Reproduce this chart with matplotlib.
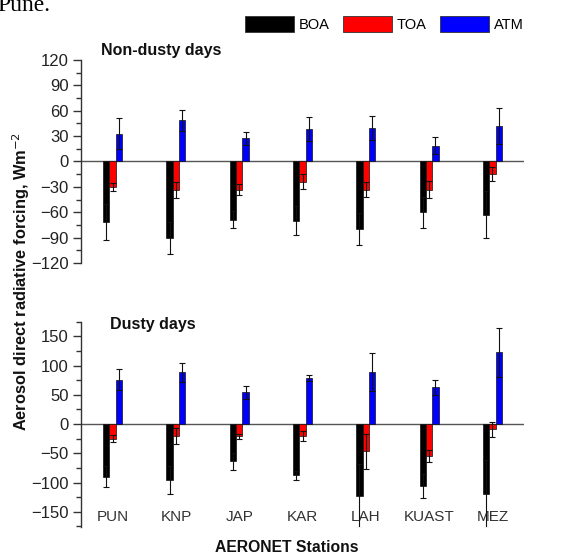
import matplotlib.pyplot as plt
import numpy as np
from matplotlib.ticker import MultipleLocator
from matplotlib.patches import Patch

plt.rcParams['font.family'] = ['Liberation Sans', 'DejaVu Sans']

stations = ['PUN', 'KNP', 'JAP', 'KAR', 'LAH', 'KUAST', 'MEZ']

# Non-dusty days (W m^-2)
nd_boa = [-71.7, -90.3, -69.0, -70.2, -80.0, -60.3, -63.0]
nd_boa_err = [21, 19, 10, 17, 19, 18, 27.6]
nd_toa = [-29.6, -33.5, -33.5, -23.7, -33.5, -33.5, -14.6]
nd_toa_err = [4.7, 9.5, 6.7, 8.6, 9, 10, 8.3]
nd_atm = [32.7, 48.5, 27.2, 38.6, 39.8, 18.5, 41.8]
nd_atm_err = [18.5, 12.6, 7.5, 14, 14, 10, 21]

# Dusty days (W m^-2)
d_boa = [-90.2, -95.9, -63.9, -87.9, -123.3, -106.2, -119.9]
d_boa_err = [18, 24, 14, 8, 55, 20.5, 58]
d_toa = [-25.1, -20.0, -21.1, -20.0, -46.8, -54.8, -9.1]
d_toa_err = [5.7, 14, 4, 9, 30, 10, 12.6]
d_atm = [75.9, 88.5, 54.2, 79.3, 88.5, 62.8, 122.7]
d_atm_err = [18, 16, 11, 5, 32.5, 13, 41.7]

colors = ['black', '#ff0000', '#0000ff']
names = ['BOA', 'TOA', 'ATM']

fig = plt.figure(figsize=(5.61, 5.54), dpi=100)
ax1 = fig.add_axes([0.1444, 0.5253, 0.7897, 0.3664])
ax2 = fig.add_axes([0.1444, 0.0487, 0.7897, 0.3706])

x = np.arange(len(stations))
w = 0.1


def draw(ax, series, errs):
    for k, (vals, err) in enumerate(zip(series, errs)):
        pos = x + (k - 1) * w
        ax.bar(pos, vals, w, color=colors[k], edgecolor='#111111', linewidth=0.5, zorder=2)
        ax.errorbar(pos, vals, yerr=err, fmt='none', ecolor='#111111', elinewidth=0.8,
                    capsize=2.3, capthick=0.8, zorder=3)
    ax.axhline(0, color='#555555', linewidth=1.0, zorder=1)
    ax.set_xlim(-0.5, 6.5)
    for s in ['top', 'right', 'bottom']:
        ax.spines[s].set_visible(False)
    ax.spines['left'].set_color('#333333')
    ax.spines['left'].set_linewidth(1.0)
    ax.set_xticks([])
    ax.tick_params(axis='y', which='major', length=6, width=1.0, color='#333333',
                   labelsize=12, labelcolor='#222222', pad=3)
    ax.tick_params(axis='y', which='minor', length=3.5, width=1.0, color='#333333')


draw(ax1, [nd_boa, nd_toa, nd_atm], [nd_boa_err, nd_toa_err, nd_atm_err])
ax1.set_ylim(-120, 120)
ax1.set_yticks(np.arange(-120, 121, 30))
ax1.yaxis.set_minor_locator(MultipleLocator(15))

draw(ax2, [d_boa, d_toa, d_atm], [d_boa_err, d_toa_err, d_atm_err])
ax2.set_ylim(-176, 175)
ax2.set_yticks(np.arange(-150, 151, 50))
ax2.yaxis.set_minor_locator(MultipleLocator(25))

for xi, name in zip(x, stations):
    ax2.text(xi, 0.05, name, transform=ax2.get_xaxis_transform(), ha='center', va='center',
             fontsize=11, color='#333333', zorder=1)

fig.text(101 / 561, 1 - 51 / 554, 'Non-dusty days', fontsize=11.5, fontweight='bold',
         ha='left', va='center', color='#111111')
fig.text(110 / 561, 1 - 325 / 554, 'Dusty days', fontsize=11.5, fontweight='bold',
         ha='left', va='center', color='#111111')
fig.text(21 / 561, 1 - 281 / 554, 'Aerosol direct radiative forcing, Wm$^{-2}$', rotation=90,
         fontsize=11.8, fontweight='bold', ha='center', va='center', color='#111111')
fig.text(287 / 561, 1 - 547 / 554, 'AERONET Stations', fontsize=11.3, fontweight='bold',
         ha='center', va='center', color='#111111')

# cut-off text from the page above the figure
fig.text(-3 / 561, 1 - 11 / 554, 'Pune.', fontsize=17, family='Liberation Serif',
         ha='left', va='baseline', color='black')

handles = [Patch(facecolor=c, edgecolor='#333333', linewidth=0.6) for c in colors]
fig.legend(handles, names, loc='center', bbox_to_anchor=(384 / 561, 1 - 24 / 554), ncol=3,
           frameon=False, fontsize=10.5, handlelength=3.4, handleheight=1.4,
           handletextpad=0.3, columnspacing=0.9)

fig.savefig('out.png', dpi=100)
